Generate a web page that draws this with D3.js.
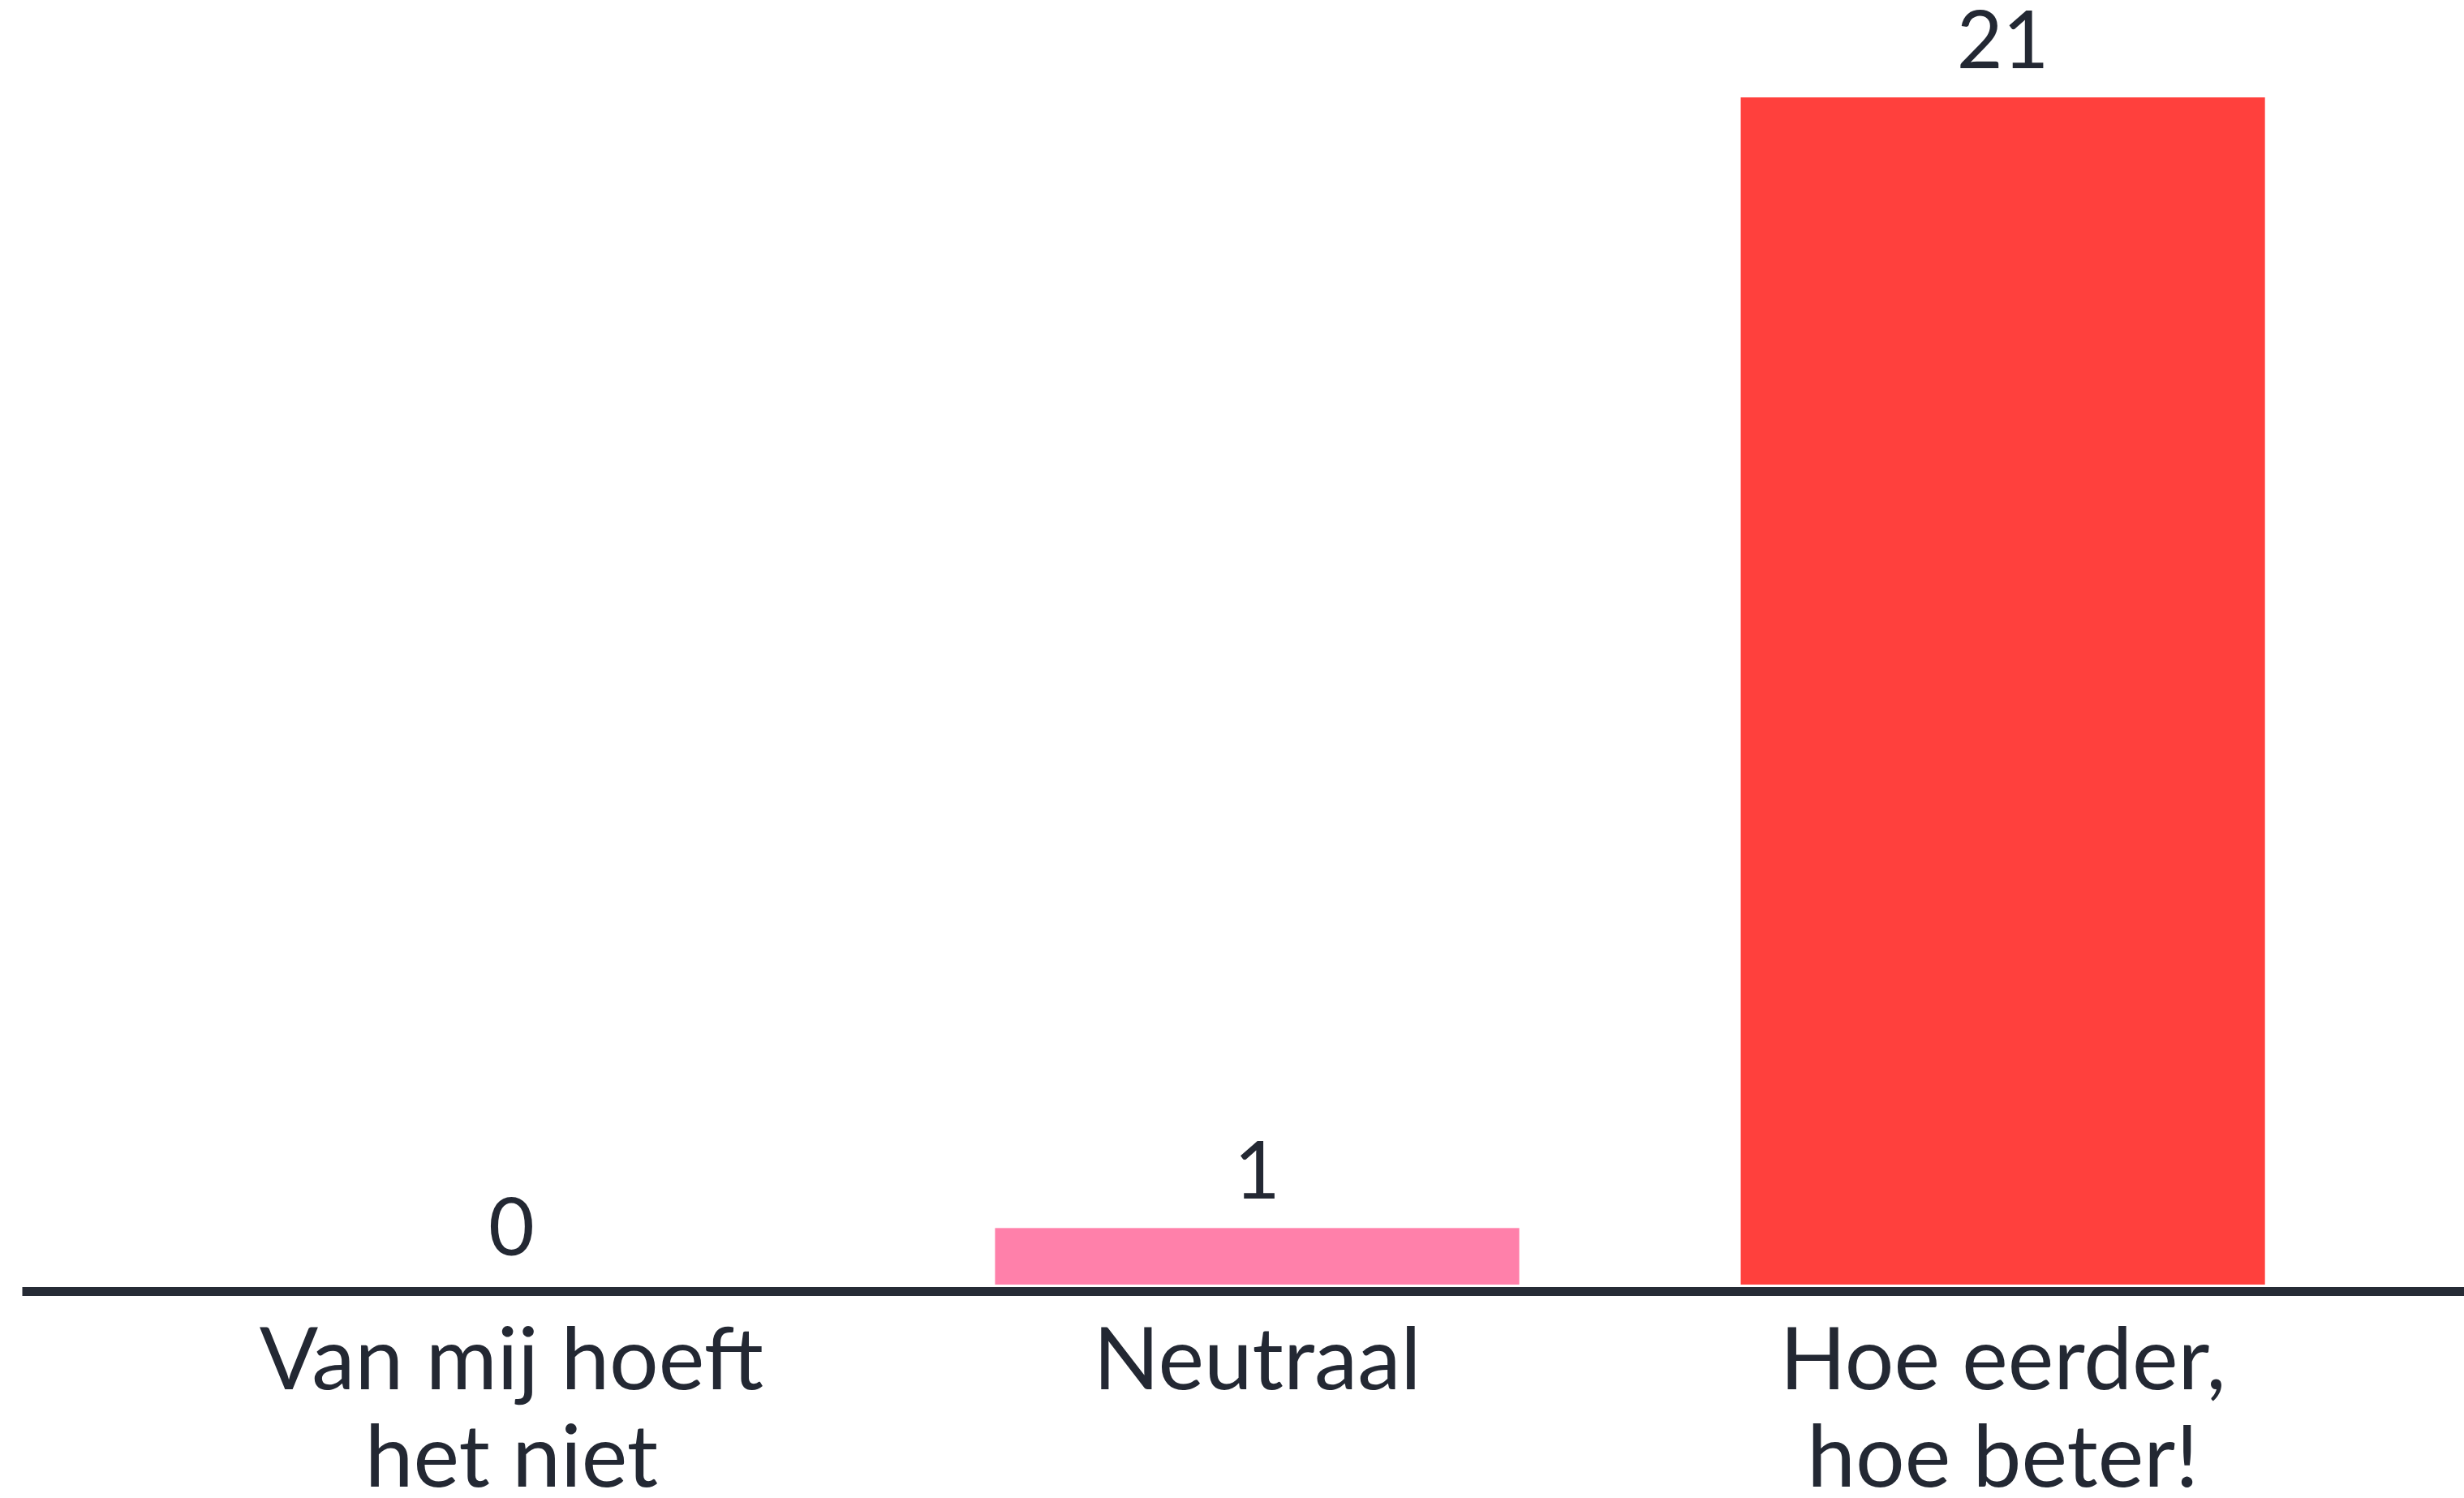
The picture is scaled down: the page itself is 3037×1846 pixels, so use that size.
<!DOCTYPE html>
<html>
<head>
<meta charset="utf-8">
<script src="https://cdn.jsdelivr.net/npm/d3@7"></script>
<style>
  html, body { margin: 0; padding: 0; background: #ffffff; overflow: hidden; }
  svg { display: block; }
  text { font-family: Lato, "Open Sans", sans-serif; fill: #232833; }
</style>
</head>
<body>
<svg></svg>
<script>
const SVG_WIDTH = 3037, SVG_HEIGHT = 1846;
const BASELINE = 1583, AXIS_Y = 1591, TOP = 120;

// data
const categories = ["Van mij hoeft het niet", "Neutraal", "Hoe eerder, hoe beter!"];
const tickLines = [["Van mij hoeft", "het niet"], ["Neutraal"], ["Hoe eerder,", "hoe beter!"]];
const counts = [0, 1, 21];
const colors = ["#ff80aa", "#ff80aa", "#ff403d"];

const svg = d3.select("svg")
    .attr("width", SVG_WIDTH)
    .attr("height", SVG_HEIGHT);

const x = d3.scaleBand()
    .domain(categories)
    .range([27, 3072])
    .paddingInner(0.297)
    .paddingOuter(0.305);

const y = d3.scaleLinear()
    .domain([0, 21])
    .range([BASELINE, TOP]);

svg.selectAll("rect.bar").data(counts).enter().append("rect")
    .attr("class", "bar")
    .attr("x", (d, i) => x(categories[i]))
    .attr("width", x.bandwidth())
    .attr("y", d => y(d))
    .attr("height", d => BASELINE - y(d))
    .attr("fill", (d, i) => colors[i]);

svg.selectAll("text.value").data(counts).enter().append("text")
    .attr("class", "value")
    .attr("x", (d, i) => x(categories[i]) + x.bandwidth() / 2)
    .attr("y", d => y(d) - 36)
    .attr("text-anchor", "middle")
    .attr("font-size", 98)
    .text(d => d);

const axis = svg.append("g")
    .attr("transform", "translate(0," + AXIS_Y + ")")
    .call(d3.axisBottom(x).tickSize(0).tickSizeOuter(0));

axis.select(".domain")
    .attr("stroke", "#262b35")
    .attr("stroke-width", 11);

axis.selectAll(".tick text").each(function(d, i) {
    const t = d3.select(this)
        .attr("y", 121)
        .attr("dy", null)
        .attr("font-size", 107)
        .attr("font-family", null)
        .attr("fill", null)
        .text(null);
    tickLines[i].forEach((line, j) => {
        t.append("tspan")
            .attr("x", 0)
            .attr("dy", j == 0 ? 0 : 120)
            .text(line);
    });
});
</script>
</body>
</html>
